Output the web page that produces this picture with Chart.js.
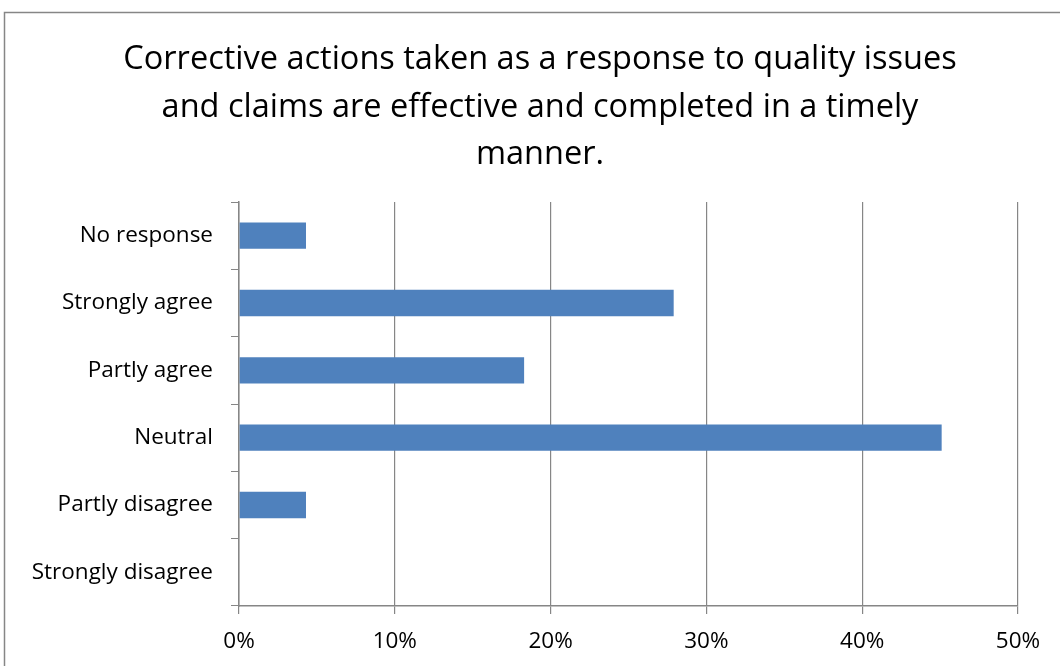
<!DOCTYPE html>
<html lang="en">
<head>
  <meta charset="UTF-8" />
  <title>Corrective actions</title>
  <script src="https://cdn.jsdelivr.net/npm/chart.js"></script>
  <style>
    body { margin: 0; background: #fff; }
    #wrap { width: 1060px; height: 666px; }
  </style>
</head>
<body>
  <div id="wrap"><canvas id="chart" width="1060" height="666"></canvas></div>

  <script>
    const titleLines = [
      'Corrective actions taken as a response to quality issues',
      'and claims are effective and completed in a timely',
      'manner.'
    ];
    const answers = ['No response', 'Strongly agree', 'Partly agree', 'Neutral', 'Partly disagree', 'Strongly disagree'];
    const shares = [4.3, 27.9, 18.3, 45.1, 4.3, 0];
    const xMax = 50;
    const xStep = 10;

    const gray = '#868686';
    const font = "'Open Sans', sans-serif";

    // outer frame like the spreadsheet chart box
    const frame = {
      id: 'frame',
      beforeDraw(c) {
        const g = c.ctx;
        g.save();
        g.strokeStyle = gray;
        g.lineWidth = 1.5;
        g.strokeRect(4.5, 12.5, 1100, 700);
        g.restore();
      }
    };

    // title centred on the chart box, not on the plot area
    const boxTitle = {
      id: 'boxTitle',
      afterDraw(c) {
        const g = c.ctx;
        g.save();
        g.fillStyle = '#000';
        g.font = '32.5px ' + font;
        g.textAlign = 'center';
        g.textBaseline = 'middle';
        titleLines.forEach((t, i) => g.fillText(t, 540, 60 + i * 47.5));
        g.restore();
      }
    };

    new Chart(document.getElementById('chart'), {
      type: 'bar',
      data: {
        labels: answers,
        datasets: [{ data: shares, backgroundColor: '#4f81bd', categoryPercentage: 1, barPercentage: 0.39 }]
      },
      options: {
        indexAxis: 'y',
        responsive: false,
        animation: false,
        layout: { padding: { left: 10, right: 42, top: 202, bottom: 0 } },
        plugins: {
          legend: { display: false },
          tooltip: { enabled: false },
          title: { display: false }
        },
        scales: {
          x: {
            min: 0,
            max: xMax,
            ticks: {
              stepSize: xStep,
              color: '#000',
              font: { family: font, size: 22.5 },
              padding: 14,
              callback: v => v + '%'
            },
            grid: { color: gray, lineWidth: 1.2, tickLength: 8 },
            border: { color: gray, width: 1.5 },
            afterFit: s => { s.height = 60; }
          },
          y: {
            ticks: { color: '#000', font: { family: font, size: 22.5 }, padding: 18 },
            grid: { drawOnChartArea: false, color: gray, tickLength: 8, offset: true },
            border: { color: gray, width: 1.5 },
            afterFit: s => { s.width = 229; }
          }
        }
      },
      plugins: [frame, boxTitle]
    });
  </script>
</body>
</html>
